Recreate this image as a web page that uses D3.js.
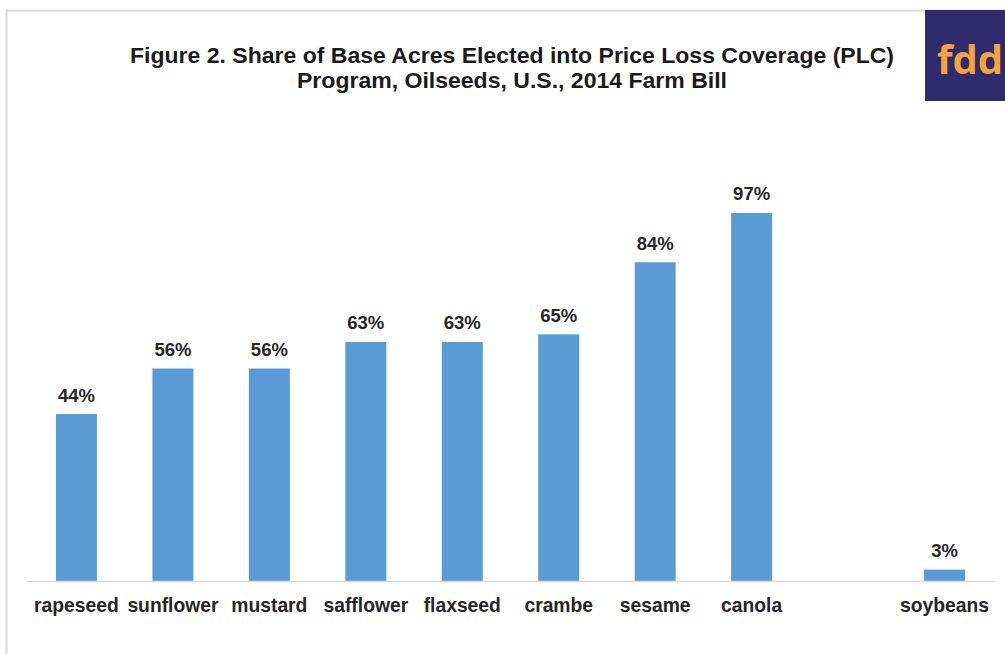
<!DOCTYPE html>
<html><head><meta charset="utf-8">
<script src="https://cdn.jsdelivr.net/npm/d3@7"></script>
<style>body{margin:0;background:#fff;}svg{display:block;font-family:"Liberation Sans",Arial,sans-serif;}</style>
</head><body><svg id="c" width="1005" height="654"></svg>
<script>
const categories = ["rapeseed","sunflower","mustard","safflower","flaxseed","crambe","sesame","canola","","soybeans"];
const values = [44,56,56,63,63,65,84,97,null,3];
const valueLabels = ["44%","56%","56%","63%","63%","65%","84%","97%","","3%"];
const titleLines = ["Figure 2. Share of Base Acres Elected into Price Loss Coverage (PLC)","Program, Oilseeds, U.S., 2014 Farm Bill"];

const svg = d3.select("#c");
// frame
svg.append("rect").attr("x",6.5).attr("y",10.5).attr("width",1100).attr("height",700)
  .attr("fill","#fff").attr("stroke","#d9d9d9").attr("stroke-width",2);

const x = d3.scaleBand().domain(d3.range(categories.length)).range([28,993]).paddingInner(0.575).paddingOuter(0.29);
const y = d3.scaleLinear().domain([0,100]).range([581,201.6]);

const data = categories.map((c,i)=>({c,v:values[i],l:valueLabels[i],i}));
svg.append("g").selectAll("rect").data(data.filter(d=>d.v!=null)).join("rect")
  .attr("x",d=>x(d.i)).attr("width",x.bandwidth())
  .attr("y",d=>y(d.v)).attr("height",d=>y(0)-y(d.v)).attr("fill","#5b9bd5");

svg.append("line").attr("x1",27).attr("x2",995).attr("y1",581.5).attr("y2",581.5)
  .attr("stroke","#d9d9d9").attr("stroke-width",1.5);

svg.append("g").selectAll("text").data(data.filter(d=>d.v!=null)).join("text")
  .attr("x",d=>x(d.i)+x.bandwidth()/2).attr("y",d=>y(d.v)-12.5)
  .attr("text-anchor","middle").attr("font-weight","bold").attr("font-size",18.5).attr("fill","#262626")
  .text(d=>d.l);

svg.append("g").selectAll("text").data(data).join("text")
  .attr("x",d=>x(d.i)+x.bandwidth()/2).attr("y",612)
  .attr("text-anchor","middle").attr("font-weight","bold").attr("font-size",19.3).attr("fill","#262626")
  .text(d=>d.c);

const titleWidths = [764, 430];
svg.append("g").selectAll("text").data(titleLines).join("text")
  .attr("x",512).attr("y",(d,i)=>63+i*25)
  .attr("text-anchor","middle").attr("font-weight","bold").attr("font-size",21.5).attr("fill","#1a1a1a")
  .attr("textLength",(d,i)=>titleWidths[i]).attr("lengthAdjust","spacingAndGlyphs")
  .text(d=>d);

// logo
svg.append("rect").attr("x",925).attr("y",10).attr("width",90).attr("height",91).attr("fill","#2f2c6e");
svg.append("text").attr("x",937).attr("y",74).attr("font-size",40).attr("font-weight","bold")
  .attr("fill","#f5a33b").attr("font-family","'Open Sans','DejaVu Sans',sans-serif").text("fdd");
</script></body></html>
